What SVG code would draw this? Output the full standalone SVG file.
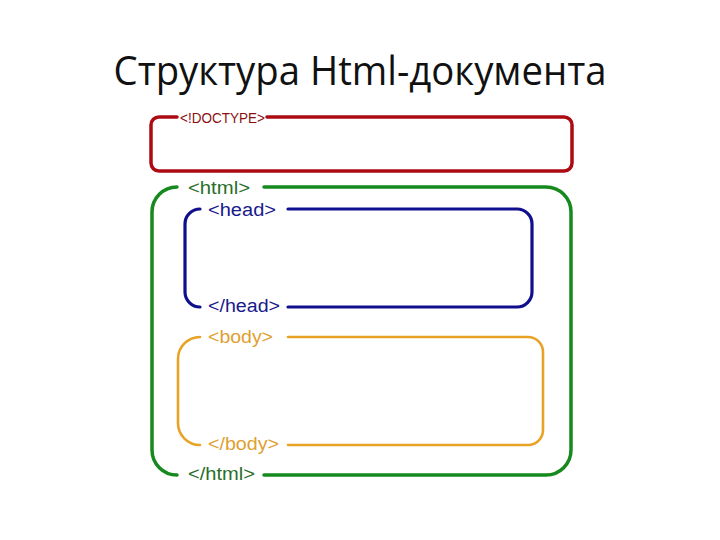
<svg xmlns="http://www.w3.org/2000/svg" width="720" height="540" viewBox="0 0 720 540">
<style>
.box{fill:none;stroke-linecap:round;stroke-linejoin:round}
.lbl{font-family:"Liberation Sans",Arial,sans-serif}
</style>
<rect width="720" height="540" fill="#ffffff"/>
<text x="360" y="85" text-anchor="middle" font-family="'Open Sans','Noto Sans',sans-serif" font-size="41" fill="#111" textLength="493" lengthAdjust="spacingAndGlyphs">Структура Html-документа</text>
<g id="doctype">
<path class="box" stroke="#ad0b14" stroke-width="3.5" d="M267,117 H564 A8,8 0 0 1 572,125 V163 A8,8 0 0 1 564,171 H159 A8,8 0 0 1 151,163 V125 A8,8 0 0 1 159,117 H177"/>
<text class="lbl" x="180" y="123" font-size="14" fill="#8a1010" textLength="85" lengthAdjust="spacingAndGlyphs">&lt;!DOCTYPE&gt;</text>
</g>
<g id="html">
<path class="box" stroke="#168a1e" stroke-width="3.5" d="M264,187 H546 A25,25 0 0 1 571,212 V450 A25,25 0 0 1 546,475 H264 M177,475 A25,25 0 0 1 152,450 V212 A25,25 0 0 1 177,187"/>
<text class="lbl" x="188" y="194" font-size="18" fill="#2a6e2a" textLength="62" lengthAdjust="spacingAndGlyphs">&lt;html&gt;</text>
<text class="lbl" x="188" y="480" font-size="18" fill="#2a6e2a" textLength="67" lengthAdjust="spacingAndGlyphs">&lt;/html&gt;</text>
</g>
<g id="head">
<path class="box" stroke="#10108f" stroke-width="3.2" d="M288,209 H517 A15,15 0 0 1 532,224 V292 A15,15 0 0 1 517,307 H288 M200,307 A15,15 0 0 1 185,292 V224 A15,15 0 0 1 200,209"/>
<text class="lbl" x="208" y="216" font-size="18" fill="#1a1a8c" textLength="68" lengthAdjust="spacingAndGlyphs">&lt;head&gt;</text>
<text class="lbl" x="208" y="312" font-size="18" fill="#1a1a8c" textLength="72" lengthAdjust="spacingAndGlyphs">&lt;/head&gt;</text>
</g>
<g id="body">
<path class="box" stroke="#e8a325" stroke-width="2.6" d="M288,337 H528 A15,15 0 0 1 543,352 V430 A15,15 0 0 1 528,445 H288 M200,445 A22,22 0 0 1 178,423 V359 A22,22 0 0 1 200,337"/>
<text class="lbl" x="208" y="343" font-size="18" fill="#e0a030" textLength="65" lengthAdjust="spacingAndGlyphs">&lt;body&gt;</text>
<text class="lbl" x="208" y="450" font-size="18" fill="#e0a030" textLength="71" lengthAdjust="spacingAndGlyphs">&lt;/body&gt;</text>
</g>
<g id="connectors"></g>
</svg>
